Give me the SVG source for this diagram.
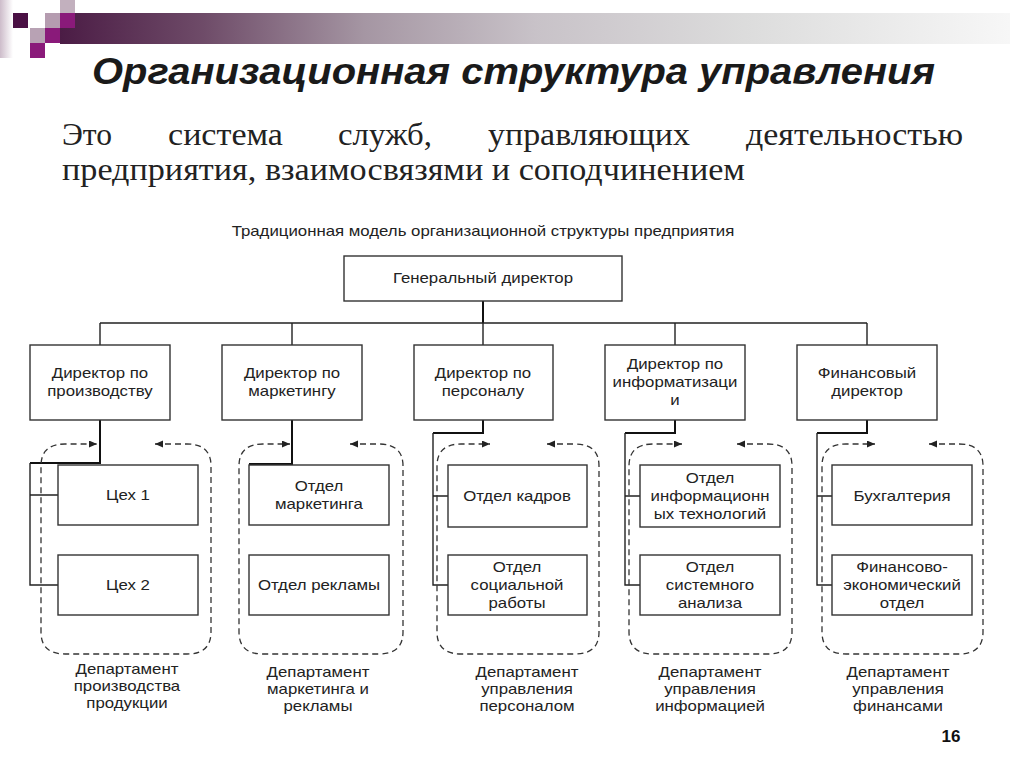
<svg xmlns="http://www.w3.org/2000/svg" width="1024" height="767" viewBox="0 0 1024 767">
<defs>
<linearGradient id="bar" x1="0" y1="0" x2="1" y2="0">
<stop offset="0" stop-color="#4b1c45"/>
<stop offset="0.15" stop-color="#6e4b68"/>
<stop offset="0.32" stop-color="#a596a3"/>
<stop offset="0.5" stop-color="#c8c2c8"/>
<stop offset="0.72" stop-color="#dcdcdc"/>
<stop offset="1" stop-color="#f7f7f7"/>
</linearGradient>
<linearGradient id="strip" x1="0" y1="0" x2="1" y2="0">
<stop offset="0" stop-color="#cdbcca"/>
<stop offset="1" stop-color="#ffffff"/>
</linearGradient>
<marker id="ah" markerWidth="9" markerHeight="8" refX="8" refY="3.5" orient="auto-start-reverse" markerUnits="userSpaceOnUse">
<path d="M0,0 L8,3.5 L0,7 z" fill="#222"/>
</marker>
<style>
.box { fill: #fff; stroke: #333; stroke-width: 1.4; }
.ln { fill: none; stroke: #222; stroke-width: 1.4; }
.lnb { fill: none; stroke: #111; stroke-width: 2; }
.dash { fill: none; stroke: #333; stroke-width: 1.3; stroke-dasharray: 6 4; marker-start: url(#ah); marker-end: url(#ah); }
.d { font-family: "Liberation Sans", Arial, sans-serif; font-size: 14px; fill: #222; text-anchor: middle; transform-box: fill-box; transform-origin: center; transform: scaleX(1.2); }
.title { font-family: "Liberation Sans", Arial, sans-serif; font-size: 37px; font-weight: bold; font-style: italic; fill: #1a1a1a; }
.sub { font-family: "Liberation Serif", "Times New Roman", serif; font-size: 31px; fill: #222; }
.num { font-family: "Liberation Sans", Arial, sans-serif; font-size: 17px; font-weight: bold; fill: #111; text-anchor: middle; }
</style>
</defs>

<g id="decoration">
<rect x="0" y="0" width="13" height="58" fill="url(#strip)"/>
<rect x="60" y="13" width="950" height="31" fill="url(#bar)"/>
<rect x="13" y="13" width="15" height="15" fill="#4a1044"/>
<rect x="45" y="13" width="15" height="15" fill="#b59cb0"/>
<rect x="60" y="0" width="15" height="13" fill="#c2b0be"/>
<rect x="60" y="13" width="15" height="15" fill="#8a1a7a"/>
<rect x="30" y="28" width="15" height="15" fill="#b8a2b4"/>
<rect x="45" y="28" width="15" height="15" fill="#8a1a7a"/>
<rect x="30" y="43" width="15" height="15" fill="#8a1a7a"/>
</g>

<g id="heading">
<text class="title" x="92" y="84" textLength="843" lengthAdjust="spacingAndGlyphs">Организационная структура управления</text>
<text class="sub" x="62" y="145" textLength="50" lengthAdjust="spacingAndGlyphs">Это</text>
<text class="sub" x="168" y="145" textLength="115" lengthAdjust="spacingAndGlyphs">система</text>
<text class="sub" x="338" y="145" textLength="94" lengthAdjust="spacingAndGlyphs">служб,</text>
<text class="sub" x="488" y="145" textLength="202" lengthAdjust="spacingAndGlyphs">управляющих</text>
<text class="sub" x="746" y="145" textLength="217" lengthAdjust="spacingAndGlyphs">деятельностью</text>
<text class="sub" x="62" y="180" textLength="683" lengthAdjust="spacingAndGlyphs">предприятия, взаимосвязями и соподчинением</text>
<text class="d" x="483" y="236">Традиционная модель организационной структуры предприятия</text>
</g>

<g id="connectors">
<path class="lnb" d="M483,301 V323"/>
<path class="ln" d="M100,323 H867 M100,323 V345 M292,323 V345 M483,323 V345 M675,323 V345 M867,323 V345"/>
<path class="lnb" d="M100,420 V463 H30"/>
<path class="ln" d="M30,463 V585 H58 M30,495 H58"/>
<path class="lnb" d="M292,420 V464 H249"/>
<path class="lnb" d="M483,420 V433 H433"/>
<path class="ln" d="M433,433 V585 H448 M433,496 H448"/>
<path class="lnb" d="M675,420 V433 H625"/>
<path class="ln" d="M625,433 V585 H640 M625,496 H640"/>
<path class="lnb" d="M867,420 V433 H817"/>
<path class="ln" d="M817,433 V585 H832 M817,496 H832"/>
<path class="dash" d="M155,444 H187 Q211,444 211,466 V632 Q211,654 187,654 H65 Q41,654 41,632 V466 Q41,444 65,444 H97"/>
<path class="dash" d="M350,444 H379 Q403,444 403,466 V632 Q403,654 379,654 H263 Q239,654 239,632 V466 Q239,444 263,444 H290"/>
<path class="dash" d="M547,444 H575 Q599,444 599,466 V632 Q599,654 575,654 H461 Q437,654 437,632 V466 Q437,444 461,444 H490"/>
<path class="dash" d="M737,444 H768 Q792,444 792,466 V632 Q792,654 768,654 H653 Q629,654 629,632 V466 Q629,444 653,444 H682"/>
<path class="dash" d="M929,444 H959 Q983,444 983,466 V632 Q983,654 959,654 H846 Q822,654 822,632 V466 Q822,444 846,444 H875"/>
</g>

<g id="gd">
<rect class="box" x="344" y="256" width="278" height="45"/>
<text class="d" x="483" y="283">Генеральный директор</text>
</g>

<g id="dir-prod">
<rect class="box" x="30" y="345" width="140" height="75"/>
<text class="d" x="100" y="378">Директор по</text>
<text class="d" x="100" y="396">производству</text>
</g>
<g id="dir-mark">
<rect class="box" x="222" y="345" width="140" height="75"/>
<text class="d" x="292" y="378">Директор по</text>
<text class="d" x="292" y="396">маркетингу</text>
</g>
<g id="dir-pers">
<rect class="box" x="414" y="345" width="139" height="75"/>
<text class="d" x="483" y="378">Директор по</text>
<text class="d" x="483" y="396">персоналу</text>
</g>
<g id="dir-inf">
<rect class="box" x="605" y="345" width="140" height="75"/>
<text class="d" x="675" y="369">Директор по</text>
<text class="d" x="675" y="387">информатизаци</text>
<text class="d" x="675" y="405">и</text>
</g>
<g id="dir-fin">
<rect class="box" x="797" y="345" width="140" height="75"/>
<text class="d" x="867" y="378">Финансовый</text>
<text class="d" x="867" y="396">директор</text>
</g>

<g id="ceh1">
<rect class="box" x="58" y="465" width="140" height="60"/>
<text class="d" x="128" y="500">Цех 1</text>
</g>
<g id="ceh2">
<rect class="box" x="58" y="555" width="140" height="60"/>
<text class="d" x="128" y="590">Цех 2</text>
</g>
<g id="otd-mark">
<rect class="box" x="249" y="465" width="140" height="60"/>
<text class="d" x="319" y="491">Отдел</text>
<text class="d" x="319" y="509">маркетинга</text>
</g>
<g id="otd-rekl">
<rect class="box" x="249" y="555" width="140" height="60"/>
<text class="d" x="319" y="590">Отдел рекламы</text>
</g>
<g id="otd-kadr">
<rect class="box" x="448" y="465" width="139" height="62"/>
<text class="d" x="517" y="501">Отдел кадров</text>
</g>
<g id="otd-soc">
<rect class="box" x="448" y="555" width="139" height="60"/>
<text class="d" x="517" y="572">Отдел</text>
<text class="d" x="517" y="590">социальной</text>
<text class="d" x="517" y="608">работы</text>
</g>
<g id="otd-it">
<rect class="box" x="640" y="465" width="140" height="62"/>
<text class="d" x="710" y="483">Отдел</text>
<text class="d" x="710" y="501">информационн</text>
<text class="d" x="710" y="519">ых технологий</text>
</g>
<g id="otd-sys">
<rect class="box" x="640" y="555" width="140" height="60"/>
<text class="d" x="710" y="572">Отдел</text>
<text class="d" x="710" y="590">системного</text>
<text class="d" x="710" y="608">анализа</text>
</g>
<g id="buh">
<rect class="box" x="832" y="465" width="140" height="60"/>
<text class="d" x="902" y="501">Бухгалтерия</text>
</g>
<g id="fin-ek">
<rect class="box" x="832" y="555" width="140" height="60"/>
<text class="d" x="902" y="572">Финансово-</text>
<text class="d" x="902" y="590">экономический</text>
<text class="d" x="902" y="608">отдел</text>
</g>

<g id="dept-labels">
<text class="d" x="127" y="674">Департамент</text>
<text class="d" x="127" y="691">производства</text>
<text class="d" x="127" y="708">продукции</text>
<text class="d" x="318" y="677">Департамент</text>
<text class="d" x="318" y="694">маркетинга и</text>
<text class="d" x="318" y="711">рекламы</text>
<text class="d" x="527" y="677">Департамент</text>
<text class="d" x="527" y="694">управления</text>
<text class="d" x="527" y="711">персоналом</text>
<text class="d" x="710" y="677">Департамент</text>
<text class="d" x="710" y="694">управления</text>
<text class="d" x="710" y="711">информацией</text>
<text class="d" x="898" y="677">Департамент</text>
<text class="d" x="898" y="694">управления</text>
<text class="d" x="898" y="711">финансами</text>
</g>

<text class="num" x="951" y="742">16</text>
</svg>
